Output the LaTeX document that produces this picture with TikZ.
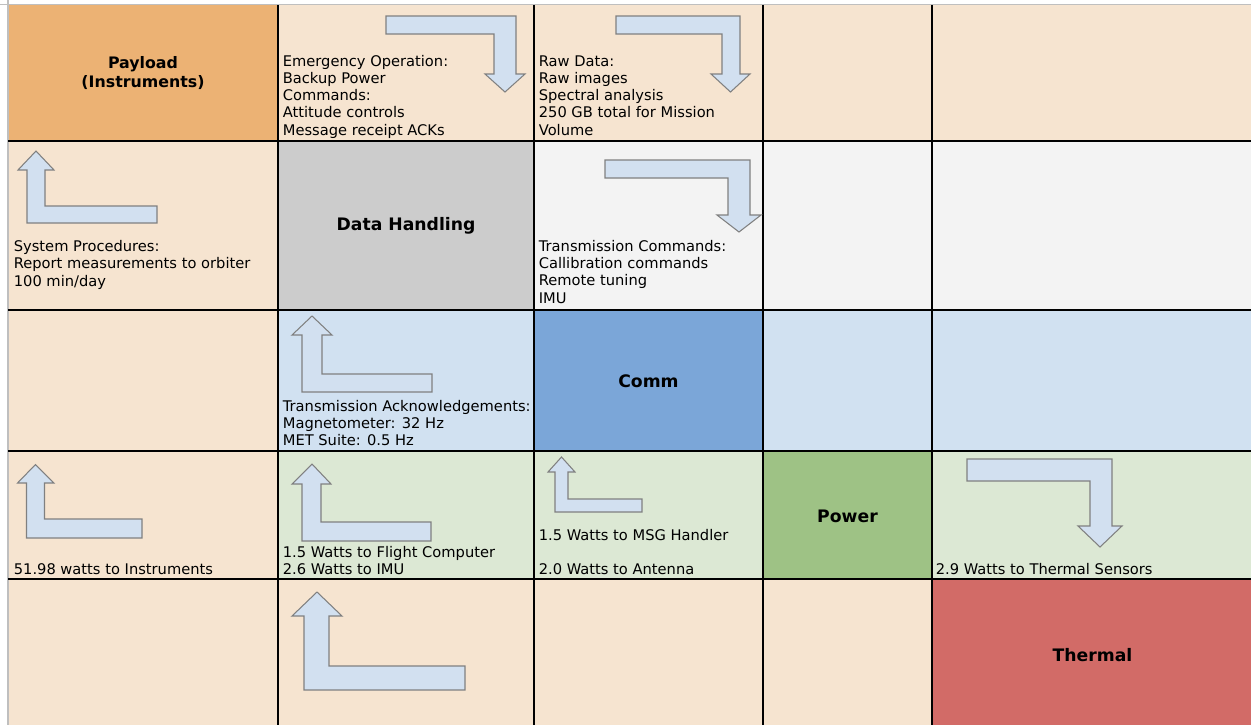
\documentclass[tikz,border=0pt]{standalone}
\usepackage{fontspec}
\setmainfont{DejaVu Sans}
\definecolor{peach}{HTML}{F6E4D0}
\definecolor{payload}{HTML}{ECB274}
\definecolor{dhgray}{HTML}{CCCCCC}
\definecolor{palegray}{HTML}{F3F3F3}
\definecolor{paleblue}{HTML}{D1E1F1}
\definecolor{comm}{HTML}{7BA6D8}
\definecolor{palegreen}{HTML}{DCE8D4}
\definecolor{power}{HTML}{9EC285}
\definecolor{thermal}{HTML}{D26B67}
\definecolor{arrowfill}{HTML}{D2E0F0}
\definecolor{arrowline}{HTML}{808080}
\tikzset{
  txt/.style={anchor=base west,align=left,inner sep=0pt,font=\fontsize{8.35}{9.8}\selectfont},
  head/.style={align=center,inner sep=0pt,font=\fontsize{9.8}{11.4}\selectfont\bfseries},
  larrow/.style={fill=arrowfill,draw=arrowline,line width=0.6pt}
}
\begin{document}
\begin{tikzpicture}[x=0.02cm,y=-0.02cm]
\useasboundingbox (0,0) rectangle (1251,725);
% cells
\fill[peach] (8,5) rectangle (1251,725);
\fill[payload] (8,5) rectangle (278,141);
\fill[dhgray] (278,141) rectangle (534,310);
\fill[palegray] (534,141) rectangle (1251,310);
\fill[paleblue] (278,310) rectangle (1251,451);
\fill[comm] (534,310) rectangle (763,451);
\fill[palegreen] (278,451) rectangle (1251,579);
\fill[power] (763,451) rectangle (932,579);
\fill[thermal] (932,579) rectangle (1251,725);
% grid
\draw[line width=0.8pt,black!25] (0,4.5) -- (1251,4.5);
\draw[line width=0.8pt,black!25] (8,0) -- (8,725);
\foreach \x in {278,534,763,932}
  \draw[line width=1pt] (\x,5) -- (\x,725);
\foreach \y in {141,310,451,579}
  \draw[line width=1pt] (8,\y) -- (1251,\y);
% arrows down
\draw[larrow] (386,16) -- (516,16) -- (516,74) -- (525,74) -- (505,92) -- (485,74) -- (494,74) -- (494,34) -- (386,34) -- cycle;
\draw[larrow] (616,16) -- (740,16) -- (740,74) -- (750,74) -- (730.5,92) -- (711,74) -- (722,74) -- (722,34) -- (616,34) -- cycle;
\draw[larrow] (605,160) -- (750,160) -- (750,215) -- (761,215) -- (739,232) -- (717,215) -- (728,215) -- (728,178) -- (605,178) -- cycle;
\draw[larrow] (967,459) -- (1112,459) -- (1112,526) -- (1122,526) -- (1100,547) -- (1078,526) -- (1090,526) -- (1090,481) -- (967,481) -- cycle;
% arrows up
\draw[larrow] (36,151) -- (54,170) -- (45,170) -- (45,206) -- (157,206) -- (157,223) -- (27,223) -- (27,170) -- (18,170) -- cycle;
\draw[larrow] (312,316) -- (332,335) -- (322,335) -- (322,374) -- (432,374) -- (432,392) -- (302,392) -- (302,335) -- (292,335) -- cycle;
\draw[larrow] (35.5,464.5) -- (54,483) -- (44.5,483) -- (44.5,519) -- (142,519) -- (142,538) -- (26.5,538) -- (26.5,483) -- (17.5,483) -- cycle;
\draw[larrow] (312,464) -- (331,484) -- (321,484) -- (321,522) -- (431,522) -- (431,541) -- (302,541) -- (302,484) -- (292,484) -- cycle;
\draw[larrow] (561.5,457) -- (575,472) -- (568,472) -- (568,499) -- (642,499) -- (642,512) -- (555,512) -- (555,472) -- (548,472) -- cycle;
\draw[larrow] (317,592) -- (342,616) -- (329,616) -- (329,666) -- (465,666) -- (465,690) -- (304,690) -- (304,616) -- (292,616) -- cycle;
% headings
\node[head,font=\fontsize{9}{10.6}\selectfont\bfseries] (payload) at (143,73) {Payload\\(Instruments)};
\node[head] (dh) at (406,226) {Data Handling};
\node[head] (comm) at (648.5,381) {Comm};
\node[head] (power) at (847.5,516) {Power};
\node[head] (thermal) at (1092.5,655) {Thermal};
% texts (base = last line)
\node[txt] (emerg) at (282.5,135) {Emergency Operation:\\Backup Power\\Commands:\\Attitude controls\\Message receipt ACKs};
\node[txt] (raw) at (538.5,135) {Raw Data:\\Raw images\\Spectral analysis\\250 GB total for Mission\\Volume};
\node[txt] (sysproc) at (13.5,286) {System Procedures:\\Report measurements to orbiter\\100 min/day};
\node[txt] (trcmd) at (538.5,303) {Transmission Commands:\\Callibration commands\\Remote tuning\\IMU};
\node[txt] (track) at (282.5,445.5) {Transmission Acknowledgements:\\Magnetometer: 32 Hz\\MET Suite: 0.5 Hz};
\node[txt] (instr) at (13.5,574) {51.98 watts to Instruments};
\node[txt] (flight) at (282.5,574.5) {1.5 Watts to Flight Computer\\2.6 Watts to IMU};
\node[txt] (msg) at (538.5,540) {1.5 Watts to MSG Handler};
\node[txt] (ant) at (538.5,574) {2.0 Watts to Antenna};
\node[txt] (thsens) at (935.5,574) {2.9 Watts to Thermal Sensors};
\end{tikzpicture}
\end{document}
